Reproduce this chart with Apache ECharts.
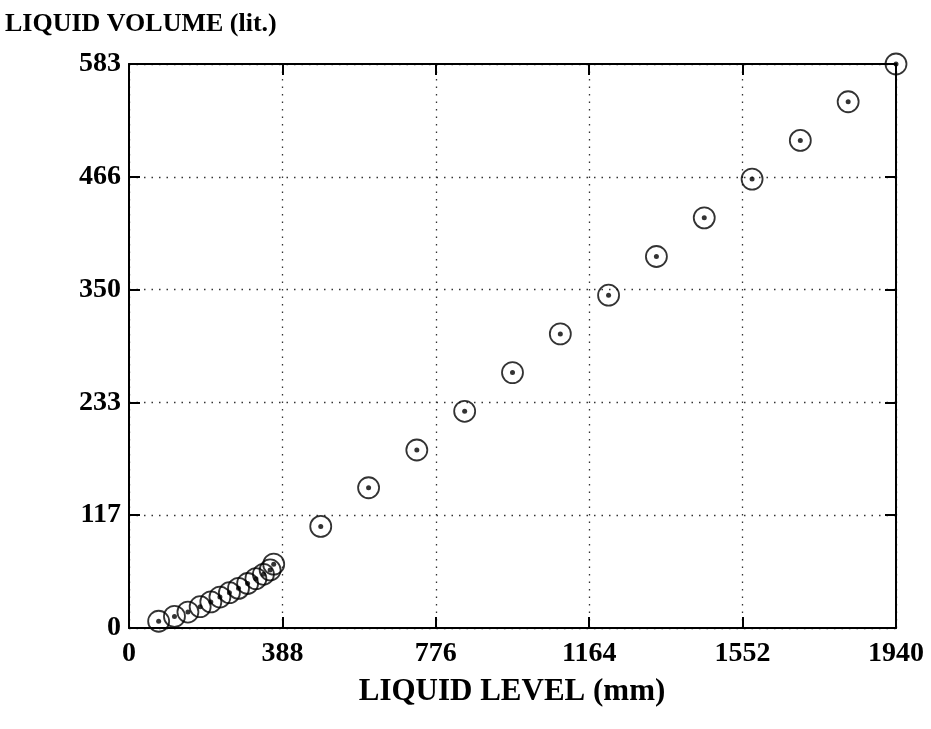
<!DOCTYPE html>
<html>
<head>
<meta charset="utf-8">
<script src="https://cdn.jsdelivr.net/npm/echarts@6/dist/echarts.min.js"></script>
<style>
html,body{margin:0;padding:0;background:#fff;}
#chart{width:931px;height:729px;}
</style>
</head>
<body>
<div id="chart"></div>
<script>
// Data
const liquidLevel = [75, 115, 149, 180, 207, 230, 254, 277, 300, 321, 340, 357, 366,
  485, 606, 728, 849, 970, 1091, 1213, 1334, 1455, 1576, 1698, 1819, 1940];
const liquidVolume = [7, 12, 16.5, 22, 27, 32, 36.5, 41, 46, 51, 55.5, 60, 66,
  105, 145, 184, 224, 264, 304, 344, 384, 424, 464, 504, 544, 583];
const xTicks = [0, 388, 776, 1164, 1552, 1940];
const yTicks = [0, 117, 233, 350, 466, 583];

const pts = liquidLevel.map((x, i) => [x, liquidVolume[i]]);
const FONT = '"Liberation Serif", "Times New Roman", serif';

const chart = echarts.init(document.getElementById('chart'), null, {renderer: 'canvas'});
const yStep = yTicks[yTicks.length - 1] / (yTicks.length - 1);
const xStep = xTicks[1] - xTicks[0];

const baseX = {
  type: 'value', min: xTicks[0], max: xTicks[xTicks.length - 1], interval: xStep,
  axisLine: {show: true, onZero: false, lineStyle: {color: '#000', width: 2}},
  axisTick: {show: true, inside: true, length: 11, lineStyle: {color: '#000', width: 2}}
};
const baseY = {
  type: 'value', min: 0, max: yTicks[yTicks.length - 1], interval: yStep,
  axisLine: {show: true, onZero: false, lineStyle: {color: '#000', width: 2}},
  axisTick: {show: true, inside: true, length: 11, lineStyle: {color: '#000', width: 2}}
};
const gridDots = {show: true, lineStyle: {color: '#333', width: 1.3, type: [1.5, 6]}};

chart.setOption({
  backgroundColor: '#fff',
  animation: false,
  graphic: [
    {type: 'text', x: 5, y: 11,
      style: {text: 'LIQUID VOLUME (lit.)', font: 'bold 26px ' + FONT, fill: '#000'}},
    {type: 'text', x: 512, y: 692,
      style: {text: 'LIQUID LEVEL (mm)', font: 'bold 31px ' + FONT, fill: '#000',
        textAlign: 'center', textVerticalAlign: 'middle'}}
  ],
  grid: {left: 129, right: 35, top: 64, bottom: 101, show: false},
  xAxis: [
    Object.assign({}, baseX, {
      position: 'bottom',
      axisLabel: {color: '#000', fontFamily: FONT, fontWeight: 'bold', fontSize: 28, margin: 12,
        formatter: v => String(Math.round(v))},
      splitLine: gridDots
    }),
    Object.assign({}, baseX, {
      position: 'top',
      axisLabel: {show: false},
      splitLine: {show: false}
    })
  ],
  yAxis: [
    Object.assign({}, baseY, {
      position: 'left',
      axisLabel: {color: '#000', fontFamily: FONT, fontWeight: 'bold', fontSize: 28, margin: 8,
        formatter: v => String(Math.round(v))},
      splitLine: gridDots
    }),
    Object.assign({}, baseY, {
      position: 'right',
      axisLabel: {show: false},
      splitLine: {show: false}
    })
  ],
  series: [
    {
      type: 'scatter', data: pts, symbol: 'circle', symbolSize: 21,
      itemStyle: {color: 'rgba(0,0,0,0)', borderColor: '#000', borderWidth: 1.8},
      z: 3, silent: true
    },
    {
      type: 'scatter', data: pts, symbol: 'circle', symbolSize: 5,
      itemStyle: {color: '#000'},
      z: 4, silent: true
    }
  ]
});
</script>
</body>
</html>
